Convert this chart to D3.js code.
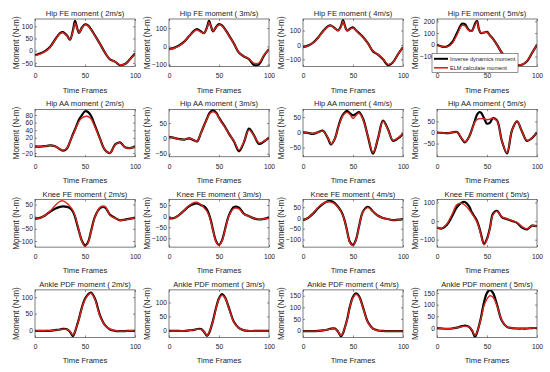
<!DOCTYPE html>
<html>
<head>
<meta charset="utf-8">
<script src="https://cdn.jsdelivr.net/npm/d3@7"></script>
<style>
  body { margin: 0; background: #fff; }
  svg text { font-family: 'Liberation Sans', Arial, sans-serif; fill: #222; }
</style>
</head>
<body>
<svg id="chart"></svg>
<script>
// Joint moments: inverse dynamics vs ELM estimate, 4 joints x 4 running speeds

const frames = [0,5,10,15,20,25,28,32,35,38,40,42,44,47,50,53,56,60,65,70,75,80,85,90,95,100];
const joints = ['Hip FE moment', 'Hip AA moment', 'Knee FE moment', 'Ankle PDF moment'];
const speeds = ['2m/s', '3m/s', '4m/s', '5m/s'];
const xTicks = [0, 50, 100];
const legendLabels = ['Inverse dynamics moment', 'ELM calculate moment'];

// Hip flexion/extension
const hipFE2_id  = [-18,-12,-2,15,45,72,76,62,45,85,122,95,73,95,108,104,88,62,28,-8,-36,-45,-60,-55,-35,-12];
const hipFE2_elm = [-20,-14,-4,13,43,70,74,60,47,80,114,92,75,93,106,102,86,60,27,-8,-35,-45,-58,-55,-36,-14];
const hipFE3_id  = [-15,-8,5,25,55,85,95,82,72,105,140,110,82,105,122,115,95,60,15,-35,-55,-70,-102,-98,-50,-15];
const hipFE3_elm = [-17,-10,3,23,55,83,90,78,72,100,133,108,84,103,118,112,93,58,14,-33,-55,-68,-92,-90,-48,-15];
const hipFE4_id  = [-15,-5,15,50,95,130,135,115,100,130,172,130,100,112,122,102,82,55,10,-45,-68,-100,-140,-120,-65,-15];
const hipFE4_elm = [-16,-6,13,48,93,128,133,113,100,127,165,128,102,110,118,100,80,53,9,-43,-66,-96,-135,-120,-64,-16];
const hipFE5_id  = [0,-15,-15,20,100,180,175,125,120,180,205,130,100,105,110,80,50,0,-70,-120,-160,-175,-170,-140,-70,0];
const hipFE5_elm = [0,-16,-18,10,85,165,162,120,118,168,195,128,104,104,108,78,48,-2,-70,-118,-158,-172,-168,-138,-70,0];

// Hip abduction/adduction
const hipAA2_id  = [-3,-3,-2,0,-2,-10,-14,-8,10,30,42,55,68,80,90,88,78,52,18,-12,-20,2,8,-5,-7,-4];
const hipAA2_elm = [-3,-3,-2,0,-2,-10,-13,-7,10,28,40,52,63,72,76,76,70,48,17,-12,-20,1,8,-5,-7,-4];
const hipAA3_id  = [5,2,-2,-4,0,-6,-10,18,42,65,80,88,92,85,68,52,38,15,-10,-42,-12,32,10,-18,-10,3];
const hipAA3_elm = [5,2,-3,-4,1,-5,-9,18,42,63,77,84,87,82,66,50,36,14,-8,-38,-10,28,9,-15,-9,3];
const hipAA4_id  = [0,-2,-5,0,5,-20,-40,-20,15,45,58,65,70,62,55,60,66,45,-15,-70,-20,38,10,-28,-20,-5];
const hipAA4_elm = [0,-2,-4,0,4,-18,-38,-20,14,42,55,62,65,58,45,55,63,42,-14,-66,-20,36,8,-26,-18,-5];
const hipAA5_id  = [0,-2,-3,0,2,-30,-45,-20,15,55,80,92,90,65,40,45,65,55,-40,-95,10,50,5,-38,-25,0];
const hipAA5_elm = [0,-2,-3,0,2,-28,-42,-20,14,48,58,62,63,62,58,60,65,53,-40,-92,10,52,5,-36,-24,0];

// Knee flexion/extension
const kneeFE2_id  = [-8,-5,5,20,32,40,42,40,35,20,0,-30,-60,-100,-118,-105,-60,0,35,38,8,-5,-15,-12,-8,-5];
const kneeFE2_elm = [-10,-6,5,22,45,63,65,55,42,25,5,-25,-58,-102,-122,-108,-62,-2,38,42,5,-6,-15,-13,-9,-5];
const kneeFE3_id  = [-10,-8,5,25,45,55,58,50,45,30,8,-22,-62,-112,-130,-110,-60,5,42,38,10,0,-10,-15,-12,-8];
const kneeFE3_elm = [-10,-8,5,25,48,62,63,52,38,22,3,-27,-65,-115,-132,-112,-62,2,35,33,8,0,-10,-14,-12,-8];
const kneeFE4_id  = [-10,0,20,45,65,78,78,68,52,32,12,-18,-58,-112,-125,-100,-40,30,52,30,10,0,-5,-10,-8,-5];
const kneeFE4_elm = [-10,0,22,48,68,75,73,64,50,30,10,-20,-60,-115,-128,-102,-42,28,48,30,10,0,-5,-10,-8,-5];
const kneeFE5_id  = [-35,-40,-20,25,75,100,102,80,45,20,0,-30,-70,-122,-95,-35,40,55,20,10,0,-10,-35,-45,-25,-28];
const kneeFE5_elm = [-35,-38,-15,35,88,95,85,62,40,15,-5,-35,-75,-128,-100,-38,35,52,22,12,2,-8,-30,-42,-25,-28];

// Ankle plantar/dorsiflexion
const anklePDF2_id  = [-2,-2,-2,-2,0,2,4,3,-5,-18,-5,15,35,70,95,108,114,95,45,15,2,-2,-3,-3,-2,-2];
const anklePDF2_elm = [-2,-2,-2,-2,0,2,3,2,-4,-15,-4,14,33,68,93,106,112,93,42,15,3,-1,-3,-3,-2,-2];
const anklePDF3_id  = [-2,-2,-2,-2,0,2,5,5,-5,-20,-10,10,35,80,115,130,118,80,30,8,0,-2,-2,-2,-2,-2];
const anklePDF3_elm = [-2,-2,-2,-2,0,2,4,4,-4,-18,-8,10,33,78,112,126,116,78,28,8,0,-2,-2,-2,-2,-2];
const anklePDF4_id  = [-3,-3,-3,-2,0,4,8,8,-5,-25,-12,15,45,105,145,160,148,100,35,8,0,-2,-3,-3,-3,-3];
const anklePDF4_elm = [-3,-3,-3,-2,0,4,7,7,-4,-22,-10,14,43,102,142,156,145,98,33,8,0,-2,-3,-3,-3,-3];
const anklePDF5_id  = [0,-2,-3,-2,2,8,10,5,-10,-38,-20,10,45,110,150,163,150,100,30,5,0,-2,-2,-2,0,0];
const anklePDF5_elm = [0,-2,-3,-2,2,6,8,4,-8,-32,-18,8,40,95,125,138,132,95,32,6,0,-2,-2,-2,0,0];

// y limits and tick labels for each panel (row-major)
const yLimits = [
  [-65, 130], [-110, 150], [-150, 180], [-185, 220],
  [-30, 95], [-60, 95], [-80, 75], [-110, 105],
  [-125, 70], [-140, 75], [-135, 85], [-140, 115],
  [-22, 122], [-25, 145], [-30, 175], [-40, 163]
];
const yTickValues = [
  [-50, 0, 50, 100], [-100, 0, 100], [-100, 0, 100], [-100, 0, 100, 200],
  [-20, 0, 20, 40, 60, 80], [-50, 0, 50], [-50, 0, 50], [-50, 0, 50],
  [-100, -50, 0, 50], [-100, -50, 0, 50], [-100, -50, 0, 50], [-100, 0, 100],
  [0, 50, 100], [0, 50, 100], [0, 50, 100, 150], [0, 50, 100, 150]
];

const idSeries = [
  hipFE2_id, hipFE3_id, hipFE4_id, hipFE5_id,
  hipAA2_id, hipAA3_id, hipAA4_id, hipAA5_id,
  kneeFE2_id, kneeFE3_id, kneeFE4_id, kneeFE5_id,
  anklePDF2_id, anklePDF3_id, anklePDF4_id, anklePDF5_id
];
const elmSeries = [
  hipFE2_elm, hipFE3_elm, hipFE4_elm, hipFE5_elm,
  hipAA2_elm, hipAA3_elm, hipAA4_elm, hipAA5_elm,
  kneeFE2_elm, kneeFE3_elm, kneeFE4_elm, kneeFE5_elm,
  anklePDF2_elm, anklePDF3_elm, anklePDF4_elm, anklePDF5_elm
];

const width = 550;
const height = 372;
const colStep = 134;
const rowStep = 90.3;
const plotW = 100;
const plotH = 47.5;
const left0 = 35;
const top0 = 19;

const idColor = '#000';
const elmColor = '#d8261c';

const svg = d3.select('#chart')
  .attr('width', width)
  .attr('height', height);

svg.append('rect')
  .attr('width', width)
  .attr('height', height)
  .style('fill', '#fff');

const x = d3.scaleLinear()
  .domain([0, 100])
  .range([0, plotW]);

joints.forEach((joint, r) => {
  speeds.forEach((speed, c) => {
    const i = r * 4 + c;
    const px = left0 + c * colStep;
    const py = top0 + r * rowStep;

    const y = d3.scaleLinear()
      .domain(yLimits[i])
      .range([plotH, 0]);

    const g = svg.append('g')
      .attr('transform', `translate(${px},${py})`);

    g.append('clipPath')
      .attr('id', `clip-${i}`)
      .append('rect')
      .attr('width', plotW)
      .attr('height', plotH);

    // lines
    const line = d3.line()
      .x((d, k) => x(frames[k]))
      .y(d => y(d))
      .curve(d3.curveCatmullRom.alpha(0.5));

    const lines = g.append('g')
      .attr('clip-path', `url(#clip-${i})`);

    lines.append('path')
      .attr('d', line(idSeries[i]))
      .style('fill', 'none')
      .style('stroke', idColor)
      .style('stroke-width', '2.2px');

    lines.append('path')
      .attr('d', line(elmSeries[i]))
      .style('fill', 'none')
      .style('stroke', elmColor)
      .style('stroke-width', '1.4px');

    // axes, ticks pointing inward like MATLAB
    g.append('g')
      .attr('transform', `translate(0,${plotH})`)
      .call(d3.axisBottom(x).tickValues(xTicks).tickSize(-2).tickPadding(7));

    g.append('g')
      .call(d3.axisLeft(y).tickValues(yTickValues[i]).tickSize(-2).tickPadding(2));

    g.append('g')
      .call(d3.axisTop(x).tickValues(xTicks).tickSize(-2).tickFormat(''));

    g.append('g')
      .attr('transform', `translate(${plotW},0)`)
      .call(d3.axisRight(y).tickValues(yTickValues[i]).tickSize(-2).tickFormat(''));

    g.selectAll('.domain').remove();
    g.selectAll('.tick line')
      .style('stroke', '#262626')
      .style('stroke-width', '0.5px');
    g.selectAll('.tick text')
      .style('font-size', '6.7px')
      .style('font-family', "'Liberation Sans', Arial, sans-serif")
      .style('fill', '#222');

    g.append('rect')
      .attr('width', plotW)
      .attr('height', plotH)
      .style('fill', 'none')
      .style('stroke', '#262626')
      .style('stroke-width', '0.6px');

    // title
    g.append('text')
      .attr('x', plotW / 2)
      .attr('y', -3)
      .attr('text-anchor', 'middle')
      .style('font-size', '7.6px')
      .text(`${joint} ( ${speed})`);

    // axis labels
    g.append('text')
      .attr('x', plotW / 2)
      .attr('y', plotH + 26)
      .attr('text-anchor', 'middle')
      .style('font-size', '7.6px')
      .text('Time Frames');

    g.append('text')
      .attr('transform', 'rotate(-90)')
      .attr('x', -plotH / 2)
      .attr('y', c === 0 ? -16 : -19.5)
      .attr('text-anchor', 'middle')
      .style('font-size', '8.2px')
      .text('Moment (N-m)');
  });
});

// Legend inside the top-right panel
const legend = svg.append('g')
  .attr('transform', 'translate(432,53.5)');

legend.append('rect')
  .attr('width', 86)
  .attr('height', 19)
  .style('fill', '#fff')
  .style('stroke', '#262626')
  .style('stroke-width', '0.5px');

const legendItems = legend.selectAll('.legend-item')
  .data(legendLabels)
  .enter()
  .append('g')
  .attr('class', 'legend-item')
  .attr('transform', (d, k) => `translate(0,${5.3 + k * 9})`);

legendItems.append('line')
  .attr('x1', 2)
  .attr('x2', 16)
  .style('stroke', (d, k) => k === 0 ? idColor : elmColor)
  .style('stroke-width', (d, k) => k === 0 ? '2px' : '1.6px');

legendItems.append('text')
  .attr('x', 18)
  .attr('dy', '0.35em')
  .style('font-size', '5.6px')
  .text(d => d);
</script>
</body>
</html>
